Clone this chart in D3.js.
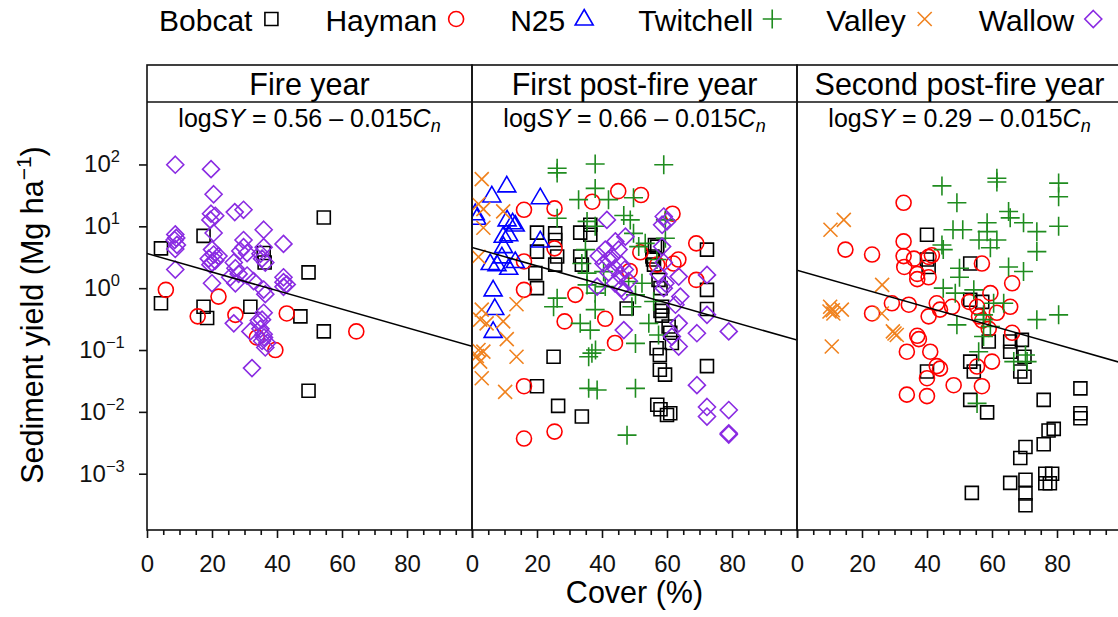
<!DOCTYPE html>
<html>
<head>
<meta charset="utf-8">
<script src="https://cdn.jsdelivr.net/npm/d3@7"></script>
<style>
  body { margin: 0; background: #fff; }
  svg { font-family: "Liberation Sans", Arial, sans-serif; }
</style>
</head>
<body>
<div class="chart"></div>
<script>
const panelTitles = ["Fire year", "First post-fire year", "Second post-fire year"];
const intercepts = ["0.56", "0.66", "0.29"];
const slope = -0.015;
const xTicks = [0, 20, 40, 60, 80, 100];
const yExponents = [-3, -2, -1, 0, 1, 2];
const fires = ["Bobcat", "Hayman", "N25", "Twitchell", "Valley", "Wallow"];
const fireColors = ["#000000", "#ff0000", "#0000ff", "#1f8c1f", "#f0821e", "#8a2be2"];

// [cover (%), sediment yield (Mg/ha)]
const bobcatFire = [[4.3,4.4],[17.4,7.0],[54.4,13.9],[35.9,3.7],[36.2,2.6],[49.7,1.8],[4.3,0.57],[17.4,0.5],[18.5,0.33],[31.8,0.5],[47.2,0.35],[54.4,0.2],[49.7,0.022]];
const haymanFire = [[5.8,0.94],[15.6,0.35],[22,0.73],[27.2,0.37],[43,0.39],[33.8,0.16],[39.5,0.1],[64.4,0.2]];
const wallowFire = [[8.7,99],[19.7,84],[20.5,33],[19.7,16],[21,14.8],[19.5,12.7],[27,17],[29.7,18.5],
  [8.7,7.4],[9,6.5],[8.5,6.0],[9.2,5.0],[8.7,4.3],[8.7,2.0],
  [20.5,7.8],[20,4.2],[20.5,3.5],[19,3.0],[20,2.6],[22,3.3],[21,2.8],[19.5,2.4],[20,1.2],
  [35.9,8.8],[42,5.2],[29.7,6.0],[29.7,4.6],[28.7,4.0],[30.8,3.7],
  [35.9,4.6],[34.9,3.6],[35.4,3.0],[36.4,2.6],[26.7,2.6],[27.2,2.1],
  [25.6,1.5],[27.2,1.2],[28.2,1.7],[30.8,1.6],[32.8,1.3],
  [42,1.5],[42,1.25],[42,1.05],[43,1.15],[35.9,0.95],[36.4,0.8],[26.7,0.27],
  [31.8,0.2],[34.9,0.22],[35.9,0.18],[35.4,0.14],[36.4,0.11],[34.4,0.3],[35.9,0.4],[35.4,0.31],[36,0.16],[37,0.13],
  [32.3,0.051]];

const bobcatPost1 = [[20,7.9],[20,3.9],[19.5,1.75],[20,1.0],[25.6,7.7],[25.6,6.0],[26.2,3.25],[25.6,2.4],[33.3,7.9],[33.3,3.25],[33.8,2.4],[36.4,10.6],[36.4,7.3],[72.3,4.2],[72.3,0.94],[72.3,0.46],[72.3,0.055],[25.1,0.078],[20,0.026],[26.5,0.0125],[33.8,0.0084],[57.4,1.36],[58,1.0],[58.5,0.5],[58,0.43],[58.5,0.36],[61,0.19],[61.5,0.13],[56.8,0.107],[57.8,0.083],[57.8,0.048],[59.4,0.04],[57,0.013],[58,0.011],[60,0.0089],[61,0.0095],[47.6,0.47],[55.5,3.25],[56,2.4],[57,4.7],[56.3,5.0],[55.7,2.9],[60.5,0.24]];
const haymanPost1 = [[45,37],[52,32],[37,25],[16,18.5],[25.4,19.5],[61.7,16],[69,5.3],[25.4,4.4],[51.8,3.8],[57,2.4],[63.5,2.9],[62,2.5],[48.5,1.9],[16,2.7],[69,1.36],[16,0.94],[31.8,0.78],[28.5,0.29],[41,0.32],[44,0.13],[16,0.026],[25.4,0.0048],[16,0.0037]];
const n25Post1 = [[10.7,45],[6.1,31],[21,29],[1,16],[1.5,13.5],[10.8,12.7],[12.5,11.4],[13.3,10.5],[11.3,7.3],[9.6,6.9],[21,5.8],[9.7,4.7],[9.2,3.2],[13.3,2.7],[5.6,2.5],[7.7,2.4],[11.3,2.1],[6.5,0.94],[7,0.47],[6.5,0.2]];
const twitchellPost1 = [[37.9,102],[59,99],[26.2,87],[26.2,73],[37.9,41],[32.8,27],[42,27],[49.7,29],[26.2,13.5],[35.4,12],[37.9,10],[48.7,12.7],[46.7,15],[49.7,7.7],[59.5,12.7],[59.5,6.4],[51.3,4.7],[53.3,5.3],[34.9,4.2],[33.8,2.5],[56.9,2.9],[40.5,1.85],[35.4,1.75],[48.2,1.28],[52.3,1.2],[35.4,1.13],[41,1.06],[37.9,0.83],[50.3,0.78],[26.2,0.69],[55.9,0.61],[25.1,0.5],[49.2,0.5],[37.9,0.45],[54.4,0.27],[33.3,0.27],[36.4,0.21],[57.4,0.175],[50.3,0.128],[36.9,0.089],[38,0.1],[35.9,0.078],[35.9,0.024],[38.5,0.0226],[50.3,0.024],[47.7,0.0042]];
const valleyPost1 = [[3,58],[2,23],[3.5,19],[9.6,17.4],[3.5,9.5],[2,3.2],[13.7,0.55],[3,0.45],[2.5,0.31],[4.5,0.27],[9.6,0.29],[10.7,0.15],[2,0.1],[3.5,0.094],[2.5,0.065],[1.5,0.08],[13.7,0.078],[3,0.035],[10.2,0.021]];
const wallowPost1 = [[41.5,12.7],[59,14.4],[58.5,10.6],[60,12],[47.2,6.8],[44.1,5.7],[41,4.2],[45.1,4.2],[43.1,3.25],[40.5,2.5],[39,3.3],[42,2.9],[44,2.1],[46,2.4],[45.6,1.6],[48.2,1.3],[44,1.2],[46,1.0],[46.7,0.88],[38.5,1.06],[42,1.8],[47,2.0],[58.5,4.7],[59,2.6],[57.4,1.7],[59.5,1.2],[59,1.0],[63.6,1.54],[64.1,0.73],[62.6,0.54],[72.3,1.64],[72.3,0.37],[63.6,0.27],[61.5,0.165],[63.6,0.114],[46.7,0.21],[69.2,0.187],[79,0.2],[69.2,0.027],[72.3,0.012],[72.3,0.0084],[79,0.0107],[79,0.0045],[79,0.0043]];

const bobcatPost2 = [[40,7.3],[40,2.9],[40.5,2.2],[53.3,2.5],[53.3,0.65],[57,0.6],[59,0.137],[65.6,0.137],[65.6,0.094],[69.2,0.146],[70,0.078],[68.7,0.045],[70,0.037],[53.3,0.065],[54.4,0.045],[40,0.045],[53.3,0.0156],[58.5,0.0098],[87.2,0.024],[87.2,0.0095],[87.2,0.0079],[75.9,0.0156],[77.4,0.005],[79,0.0053],[75.9,0.003],[70.3,0.0027],[68.7,0.0018],[65.6,0.00071],[70.3,0.0008],[70.3,0.00048],[70.3,0.00031],[53.8,0.00049],[76.4,0.001],[78.5,0.001],[77.8,0.0007],[76.4,0.0007]];
const haymanPost2 = [[32.8,24],[14.9,4.2],[23.1,3.5],[32.8,5.7],[32.8,3.3],[36,3.0],[33,2.2],[37,1.7],[40.5,1.5],[37,1.4],[40.5,3.2],[41.5,3.4],[56.9,2.5],[66.2,1.2],[23.1,0.39],[29.2,0.57],[34.4,0.54],[40.5,0.35],[43,0.57],[44,0.45],[47.7,0.5],[53,0.6],[55.4,0.5],[59.5,0.83],[65.6,0.5],[56,0.35],[57,0.3],[59,0.22],[61.5,0.4],[66.2,0.19],[37,0.17],[37.5,0.15],[33.8,0.094],[41,0.094],[43,0.055],[44,0.05],[40,0.035],[48.2,0.027],[55.4,0.054],[60,0.065],[56.9,0.026],[33.8,0.019],[40,0.018]];
const twitchellPost2 = [[61.5,60],[61.5,52],[80.5,50],[80.5,30],[44.6,45],[49.2,24],[65.1,17.4],[65.6,13.7],[69.7,11.4],[80.5,10],[73.8,8.2],[48,8.8],[51,8.8],[58.5,11.4],[58.5,8.2],[56,6.0],[61.5,6.0],[44.6,5],[45,4.2],[73.8,3.9],[59.5,4.5],[50,2.1],[50,1.5],[65.1,2.2],[69.7,1.86],[45,1.0],[48.7,0.83],[54.4,0.94],[60.5,0.57],[63.6,0.57],[49.2,0.255],[57.4,0.37],[57.4,0.31],[59.5,0.24],[73.8,0.31],[80.5,0.37],[55.9,0.094],[57.4,0.165],[66.7,0.065],[70.3,0.083],[70.8,0.065],[55.4,0.0137]];
const valleyPost2 = [[14.4,12.7],[10.3,8.8],[26.2,1.13],[10.2,0.5],[11.2,0.39],[13.8,0.45],[10,0.42],[11,0.44],[26.1,0.39],[29.5,0.2],[30.7,0.175],[30,0.185],[10.7,0.114]];

const panelSeries = [
  [bobcatFire, haymanFire, [], [], [], wallowFire],
  [bobcatPost1, haymanPost1, n25Post1, twitchellPost1, valleyPost1, wallowPost1],
  [bobcatPost2, haymanPost2, [], twitchellPost2, valleyPost2, []]
];

// marker outlines, one per fire
const shapes = [
  "M-6.5,-6.5H6.5V6.5H-6.5Z",
  "M7.5,0A7.5,7.5 0 1,1 -7.5,0A7.5,7.5 0 1,1 7.5,0Z",
  "M0,-9.5L9,6L-9,6Z",
  "M-9.5,0H9.5M0,-9.5V9.5",
  "M-7,-7L7,7M-7,7L7,-7",
  "M0,-8.5L8.5,0L0,8.5L-8.5,0Z"
];

let width = 1118,
    height = 617;
const left = 147, panelW = 325, frameTop = 65, stripBottom = 102, bottom = 530;
const font = "'Liberation Sans', Arial, sans-serif";

const svg = d3.select(".chart").append("svg")
    .attr("width", width)
    .attr("height", height);
const defs = svg.append("defs");

const y = d3.scaleLog()
    .domain([Math.pow(10, -3.91), Math.pow(10, 3.01)])
    .range([bottom, stripBottom]);

panelSeries.forEach((series, i) => {
    const x0 = left + i * panelW;
    const x = d3.scaleLinear().domain([0, 100]).range([x0, x0 + panelW]);

    defs.append("clipPath").attr("id", "clip" + i)
        .append("rect")
        .attr("x", x0).attr("y", stripBottom)
        .attr("width", panelW).attr("height", bottom - stripBottom);

    const plot = svg.append("g").attr("clip-path", `url(#clip${i})`);

    series.forEach((pts, k) => {
        plot.selectAll(null)
            .data(pts)
            .join("path")
            .attr("d", shapes[k])
            .attr("transform", d => `translate(${x(d[0])},${y(d[1])})`)
            .attr("fill", "none")
            .attr("stroke", fireColors[k])
            .attr("stroke-width", 1.6);
    });

    // fitted line: log SY = a + slope * C
    const a = +intercepts[i];
    plot.append("line")
        .attr("x1", x(0)).attr("y1", y(Math.pow(10, a)))
        .attr("x2", x(100)).attr("y2", y(Math.pow(10, a + slope * 100)))
        .attr("stroke", "#000")
        .attr("stroke-width", 1.5);

    // frame and strip
    svg.append("rect")
        .attr("x", x0).attr("y", frameTop)
        .attr("width", panelW).attr("height", bottom - frameTop)
        .attr("fill", "none").attr("stroke", "#111").attr("stroke-width", 1.6);
    svg.append("line")
        .attr("x1", x0).attr("x2", x0 + panelW)
        .attr("y1", stripBottom).attr("y2", stripBottom)
        .attr("stroke", "#111").attr("stroke-width", 1.6);

    svg.append("text")
        .attr("x", x0 + panelW / 2).attr("y", 95)
        .attr("text-anchor", "middle")
        .attr("font-size", 30.5)
        .text(panelTitles[i]);

    const eq = svg.append("text")
        .attr("x", x0 + panelW / 2).attr("y", 127)
        .attr("text-anchor", "middle")
        .attr("font-size", 25);
    eq.append("tspan").text("log");
    eq.append("tspan").attr("font-style", "italic").text("SY");
    eq.append("tspan").text(" = " + intercepts[i] + " \u2013 0.015");
    eq.append("tspan").attr("font-style", "italic").text("C");
    eq.append("tspan").attr("font-style", "italic").attr("font-size", 18).attr("dy", 5).text("n");

    // x axis, major and minor ticks
    svg.append("g")
        .attr("transform", `translate(0,${bottom})`)
        .call(d3.axisBottom(x).tickValues(xTicks).tickSize(8).tickPadding(17)
            .tickFormat(d => d < 100 ? d : ""))
        .call(g => g.select(".domain").remove())
        .call(g => g.selectAll("line").attr("stroke", "#111").attr("stroke-width", 1.6))
        .attr("font-size", 24)
        .attr("font-family", font)
        .selectAll("text").attr("fill", "#111");

    svg.append("g")
        .attr("transform", `translate(0,${bottom})`)
        .call(d3.axisBottom(x).tickValues(d3.range(5, 100, 5).filter(v => v % 20)).tickSize(5).tickFormat(""))
        .call(g => g.select(".domain").remove())
        .call(g => g.selectAll("line").attr("stroke", "#111").attr("stroke-width", 1.6));
});

// y axis
svg.append("g")
    .attr("transform", `translate(${left},0)`)
    .call(d3.axisLeft(y).tickValues(yExponents.map(e => Math.pow(10, e))).tickSize(8).tickFormat(""))
    .call(g => g.select(".domain").remove())
    .call(g => g.selectAll("line").attr("stroke", "#111").attr("stroke-width", 1.6));

yExponents.forEach(e => {
    const t = svg.append("text")
        .attr("x", 102).attr("y", y(Math.pow(10, e)) + 8)
        .attr("text-anchor", "middle")
        .attr("font-size", 24)
        .attr("fill", "#111");
    t.append("tspan").text("10");
    t.append("tspan").attr("font-size", 16.5).attr("dy", -10)
        .text(e < 0 ? "\u2212" + (-e) : e);
});

// axis titles
const yTitle = svg.append("text")
    .attr("transform", "translate(43,315) rotate(-90)")
    .attr("text-anchor", "middle")
    .attr("font-size", 30.5);
yTitle.append("tspan").text("Sediment yield (Mg ha");
yTitle.append("tspan").attr("font-size", 21).attr("dy", -12).text("\u22121");
yTitle.append("tspan").attr("dy", 12).text(")");

svg.append("text")
    .attr("x", left + panelW * 1.5).attr("y", 603)
    .attr("text-anchor", "middle")
    .attr("font-size", 30.5)
    .text("Cover (%)");

// legend across the top
let lx = 159;
fires.forEach((name, k) => {
    const t = svg.append("text")
        .attr("x", lx).attr("y", 31)
        .attr("font-size", 30)
        .text(name);
    const mx = lx + t.node().getComputedTextLength() + 19;
    svg.append("path")
        .attr("d", shapes[k])
        .attr("transform", `translate(${mx},19)`)
        .attr("fill", "none")
        .attr("stroke", fireColors[k])
        .attr("stroke-width", 1.6);
    lx = mx + 54;
});
</script>
</body>
</html>
